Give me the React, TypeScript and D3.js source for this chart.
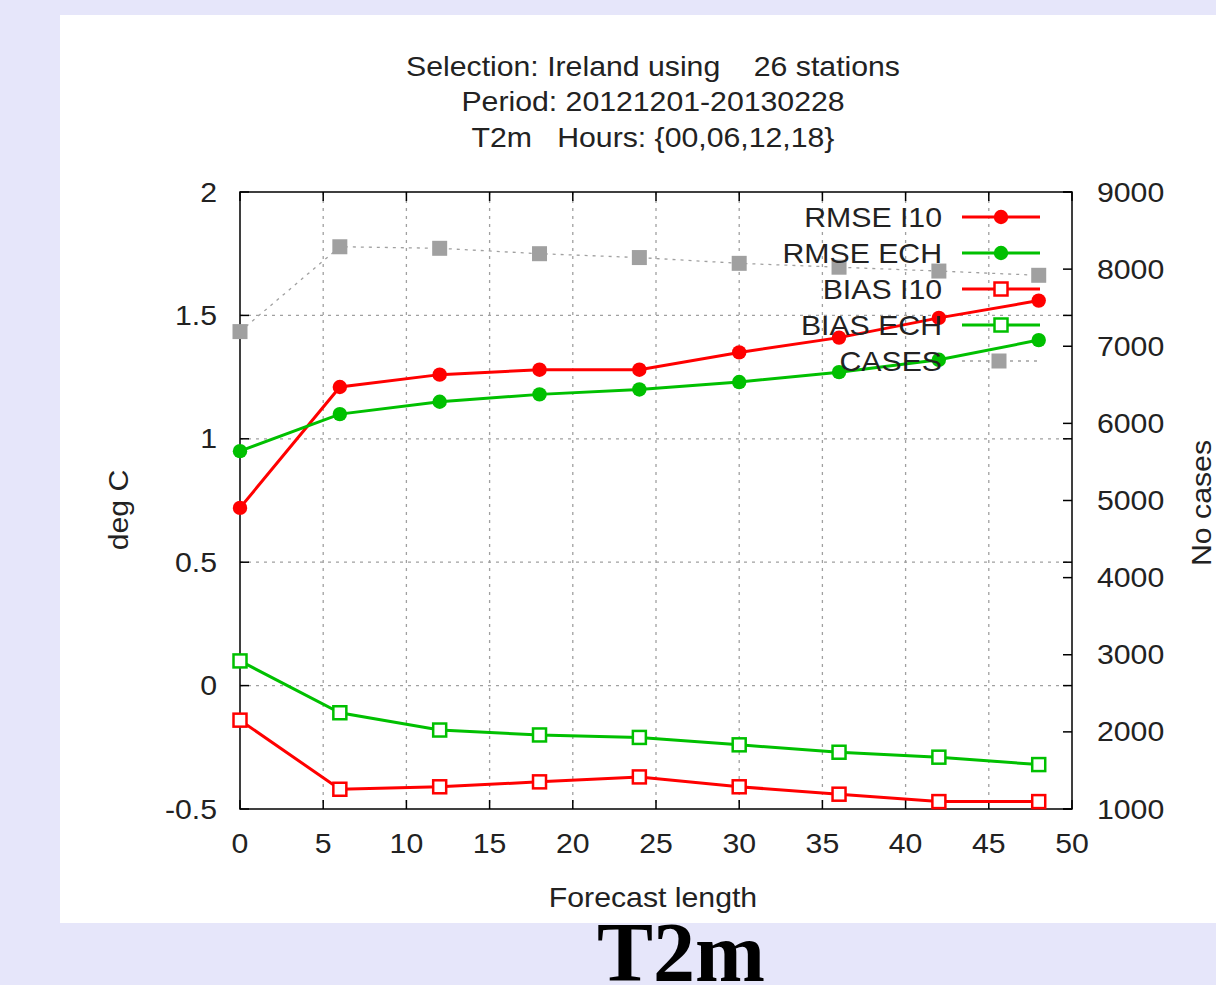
import React from "react";
import * as d3 from "d3";

const hours = [0, 6, 12, 18, 24, 30, 36, 42, 48];
const rmseI10 = [0.72, 1.21, 1.26, 1.28, 1.28, 1.35, 1.41, 1.49, 1.56];
const rmseECH = [0.95, 1.1, 1.15, 1.18, 1.2, 1.23, 1.27, 1.32, 1.4];
const biasI10 = [-0.14, -0.42, -0.41, -0.39, -0.37, -0.41, -0.44, -0.47, -0.47];
const biasECH = [0.1, -0.11, -0.18, -0.2, -0.21, -0.24, -0.27, -0.29, -0.32];
const cases = [7190, 8290, 8270, 8200, 8150, 8075, 8025, 7975, 7920];

const xTicks = [0, 5, 10, 15, 20, 25, 30, 35, 40, 45, 50];
const yTicks = [-0.5, 0, 0.5, 1, 1.5, 2];
const y2Ticks = [1000, 2000, 3000, 4000, 5000, 6000, 7000, 8000, 9000];
const titleLines = ["Selection: Ireland using    26 stations", "Period: 20121201-20130228", "T2m   Hours: {00,06,12,18}"];
const legendLabels = ["RMSE I10", "RMSE ECH", "BIAS I10", "BIAS ECH", "CASES"];

const RED = "#ff0000";
const GREEN = "#00c000";
const GRAY = "#a0a0a0";
const FONT = "'Liberation Sans', Arial, sans-serif";
const FS = 28;
const SX = 1.08;

function Txt(props: { x: number; y: number; anchor?: string; rotate?: boolean; children: React.ReactNode }) {
  const { x, y, anchor = "start", rotate = false, children } = props;
  const tr = rotate ? `translate(${x},${y}) rotate(-90) scale(${SX},1)` : `translate(${x},${y}) scale(${SX},1)`;
  return (
    <text transform={tr} textAnchor={anchor} dominantBaseline="central" fontSize={FS} fill="#222" style={{ whiteSpace: "pre" }}>
      {children}
    </text>
  );
}

export default function App() {
  const L = 240, R = 1072, T = 192, B = 809;
  const x = d3.scaleLinear().domain([0, 50]).range([L, R]);
  const y = d3.scaleLinear().domain([-0.5, 2]).range([B, T]);
  const y2 = d3.scaleLinear().domain([1000, 9000]).range([B, T]);
  const mk = (vals: number[], sc: d3.ScaleLinear<number, number>) =>
    d3.line<number>().x((_, i) => x(hours[i])).y((d) => sc(d))(vals) || "";

  const circle = (cx: number, cy: number, color: string, k: string) => (
    <circle key={k} cx={cx} cy={cy} r={7.2} fill={color} />
  );
  const sq = (cx: number, cy: number, color: string, k: string) => (
    <rect key={k} x={cx - 6.5} y={cy - 6.5} width={13} height={13} fill="white" stroke={color} strokeWidth={2.5} />
  );
  const fsq = (cx: number, cy: number, k: string) => (
    <rect key={k} x={cx - 7.5} y={cy - 7.5} width={15} height={15} fill={GRAY} />
  );

  const series = [
    { vals: rmseI10, color: RED, type: "circle" },
    { vals: rmseECH, color: GREEN, type: "circle" },
    { vals: biasI10, color: RED, type: "square" },
    { vals: biasECH, color: GREEN, type: "square" },
  ];

  return (
    <svg width={1216} height={985} style={{ position: "absolute", left: 0, top: 0 }} fontFamily={FONT}>
      <rect x={0} y={0} width={1216} height={985} fill="#e6e6fa" />
      <rect x={60} y={15} width={1160} height={908} fill="white" />
      {titleLines.map((t, i) => (
        <Txt key={t} x={653} y={66 + i * 35.5} anchor="middle">{t}</Txt>
      ))}
      {/* grid */}
      <g stroke={GRAY} strokeWidth={1.3} strokeDasharray="3,5">
        {xTicks.filter((t) => t > 0 && t < 50).map((t) => (
          <line key={"gx" + t} x1={x(t)} x2={x(t)} y1={T} y2={B} />
        ))}
        {yTicks.filter((t) => t > -0.5 && t < 2).map((t) => (
          <line key={"gy" + t} x1={L} x2={R} y1={y(t)} y2={y(t)} />
        ))}
      </g>
      {/* ticks */}
      <g stroke="black" strokeWidth={1.5}>
        {xTicks.map((t) => (
          <g key={"tx" + t}>
            <line x1={x(t)} x2={x(t)} y1={B} y2={B - 9} />
            <line x1={x(t)} x2={x(t)} y1={T} y2={T + 9} />
          </g>
        ))}
        {yTicks.map((t) => (
          <g key={"ty" + t}>
            <line x1={L} x2={L + 9} y1={y(t)} y2={y(t)} />
            <line x1={R} x2={R - 9} y1={y(t)} y2={y(t)} />
          </g>
        ))}
        {y2Ticks.map((t) => (
          <line key={"ty2" + t} x1={R} x2={R - 9} y1={y2(t)} y2={y2(t)} />
        ))}
      </g>
      <rect x={L} y={T} width={R - L} height={B - T} fill="none" stroke="black" strokeWidth={1.5} />
      {/* tick labels */}
      {xTicks.map((t) => (
        <Txt key={"lx" + t} x={x(t)} y={843} anchor="middle">{String(t)}</Txt>
      ))}
      {yTicks.map((t) => (
        <Txt key={"ly" + t} x={217} y={y(t)} anchor="end">{String(t)}</Txt>
      ))}
      {y2Ticks.map((t) => (
        <Txt key={"ly2" + t} x={1097} y={y2(t)} anchor="start">{String(t)}</Txt>
      ))}
      <Txt x={653} y={897} anchor="middle">Forecast length</Txt>
      <Txt x={118} y={510} anchor="middle" rotate>deg C</Txt>
      <Txt x={1201} y={503} anchor="middle" rotate>No cases</Txt>
      {/* cases */}
      <path d={mk(cases, y2)} fill="none" stroke={GRAY} strokeWidth={1.3} strokeDasharray="3,5" />
      {cases.map((v, i) => fsq(x(hours[i]), y2(v), "c" + i))}
      {/* series */}
      {series.map((s, si) => (
        <g key={"s" + si}>
          <path d={mk(s.vals, y)} fill="none" stroke={s.color} strokeWidth={3} />
          {s.vals.map((v, i) =>
            s.type === "circle" ? circle(x(hours[i]), y(v), s.color, "p" + i) : sq(x(hours[i]), y(v), s.color, "p" + i)
          )}
        </g>
      ))}
      {/* legend */}
      {legendLabels.map((lab, i) => {
        const ly = 217 + i * 36;
        return (
          <g key={lab}>
            <Txt x={942} y={ly} anchor="end">{lab}</Txt>
            {i < 4 ? (
              <>
                <line x1={962} x2={1040} y1={ly} y2={ly} stroke={series[i].color} strokeWidth={3} />
                {series[i].type === "circle" ? circle(1001, ly, series[i].color, "lc") : sq(1001, ly, series[i].color, "ls")}
              </>
            ) : (
              <>
                <line x1={962} x2={1040} y1={ly} y2={ly} stroke={GRAY} strokeWidth={1.3} strokeDasharray="3,5" />
                {fsq(999, ly, "lq")}
              </>
            )}
          </g>
        );
      })}
      <text x={681} y={981} textAnchor="middle" fontSize={84} fontWeight="bold" fontFamily="'Liberation Serif', 'Times New Roman', serif" fill="black">T2m</text>
    </svg>
  );
}
